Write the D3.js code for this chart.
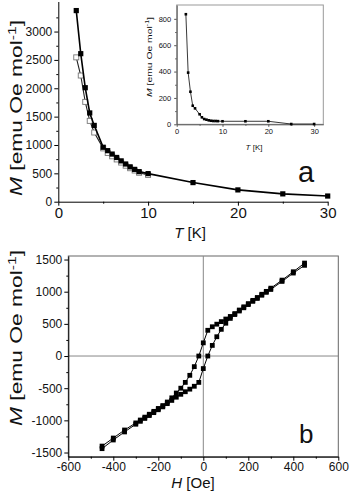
<!DOCTYPE html>
<meta charset="utf-8">
<style>
  body { margin: 0; background: #fff; }
  text { font-family: "Liberation Sans", Arial, sans-serif; fill: #111; }
</style>
<div id="chart"></div>
<script src="https://d3js.org/d3.v7.min.js"></script>
<script>

// ---- data: panel a (main), filled squares ----
const tempFilled = [2, 2.5, 3, 3.5, 4, 5, 5.5, 6, 6.5, 7, 7.5, 8, 8.5, 9, 10, 15, 20, 25, 30];
const magFilled  = [3370, 2610, 2010, 1565, 1345, 960, 900, 840, 780, 720, 665, 615, 570, 530, 495, 337, 208, 138, 100];
// open squares
const tempOpen = [2, 2.5, 3, 3.5, 4, 5, 5.5, 6, 6.5, 7, 7.5, 8, 8.5, 9, 10];
const magOpen  = [2545, 2225, 1760, 1425, 1220, 940, 860, 800, 745, 690, 635, 590, 550, 510, 470];

// inset
const tempInset = [2, 2.5, 3, 3.5, 4, 5, 5.5, 6, 6.5, 7, 7.5, 8, 8.5, 9, 10, 15, 20, 25, 30];
const magInset  = [835, 392, 247, 141, 121, 76, 53, 40, 35, 30, 27, 25, 25, 24, 23, 23, 23, 2, 2];

// panel b: hysteresis loop
const fieldH = [-450, -400, -350, -300, -280, -260, -240, -220, -200, -180, -160, -140, -120, -100, -80, -60, -40, -20,
                0, 20, 40, 60, 80, 100, 120, 140, 160, 180, 200, 220, 240, 260, 280, 300, 350, 400, 450];
const magDesc = [-1400, -1275, -1150, -1040, -995, -950, -905, -860, -815, -770, -715, -650, -575, -500, -410, -300, -165, 0,
                 205, 400, 455, 495, 535, 575, 615, 660, 715, 765, 815, 865, 910, 960, 1005, 1055, 1180, 1310, 1445];
const magAsc  = [-1440, -1305, -1180, -1060, -1015, -970, -925, -880, -835, -790, -740, -690, -640, -595, -555, -515, -470, -410,
                 -195, 0, 165, 300, 415, 510, 585, 645, 700, 750, 800, 850, 895, 945, 990, 1035, 1160, 1290, 1410];

// tick labels
const ticksA_x = [0, 10, 20, 30];
const ticksA_y = [0, 500, 1000, 1500, 2000, 2500, 3000];
const ticksI_x = [0, 10, 20, 30];
const ticksI_y = [0, 200, 400, 600, 800];
const ticksB_x = [-600, -400, -200, 0, 200, 400, 600];
const ticksB_y = [-1500, -1000, -500, 0, 500, 1000, 1500];

const plain = d => String(d);

let svg = d3.select("#chart").append("svg")
  .attr("width", 350).attr("height", 500);

function styleAxis(g, color) {
  g.select(".domain").attr("stroke", color || "#000").attr("stroke-width", 1);
  g.selectAll(".tick line").attr("stroke", color || "#000");
  g.selectAll(".tick text").attr("fill", "#111");
}

function yTitle(x, y, len, size, supSize) {
  let t = svg.append("text")
    .attr("transform", "translate(" + x + "," + y + ") rotate(-90)")
    .attr("text-anchor", "middle")
    .attr("font-size", size)
    .attr("textLength", len)
    .attr("lengthAdjust", "spacingAndGlyphs");
  t.append("tspan").attr("font-style", "italic").text("M");
  t.append("tspan").text(" [emu Oe mol");
  t.append("tspan").attr("font-size", supSize).attr("dy", -size * 0.38).text("-1");
  t.append("tspan").attr("dy", size * 0.38).text("]");
}

function xTitle(x, y, size, sym, unit) {
  let t = svg.append("text")
    .attr("x", x).attr("y", y)
    .attr("text-anchor", "middle")
    .attr("font-size", size);
  t.append("tspan").attr("font-style", "italic").text(sym);
  t.append("tspan").text(" [" + unit + "]");
}

// ================= panel a =================
let xa = d3.scaleLinear().domain([0, 30]).range([58.3, 327.7]);
let ya = d3.scaleLinear().domain([0, 3530]).range([201.7, 1.5]);

let ga = svg.append("g");
ga.append("g").attr("transform", "translate(0,201.7)")
  .call(d3.axisBottom(xa).tickValues([5, 15, 25]).tickSize(2).tickSizeOuter(0).tickFormat(""))
  .call(g => g.select(".domain").remove())
  .call(styleAxis);
ga.append("g").attr("transform", "translate(0,201.7)")
  .call(d3.axisBottom(xa).tickValues(ticksA_x).tickSize(4).tickPadding(2).tickSizeOuter(0).tickFormat(plain))
  .attr("font-size", 15).attr("font-family", null)
  .call(styleAxis);
ga.append("g").attr("transform", "translate(58.3,0)")
  .call(d3.axisLeft(ya).tickValues([250, 750, 1250, 1750, 2250, 2750, 3250]).tickSize(2).tickSizeOuter(0).tickFormat(""))
  .call(g => g.select(".domain").remove())
  .call(styleAxis);
ga.append("g").attr("transform", "translate(58.3,0)")
  .call(d3.axisLeft(ya).tickValues(ticksA_y).tickSize(4).tickPadding(2).tickSizeOuter(0).tickFormat(plain))
  .attr("font-size", 12).attr("font-family", null)
  .call(styleAxis);

let lineA = d3.line().x(d => xa(d[0])).y(d => ya(d[1]));
let openPts = tempOpen.map((t, i) => [t, magOpen[i]]);
let filledPts = tempFilled.map((t, i) => [t, magFilled[i]]);

ga.append("path").datum(openPts).attr("d", lineA)
  .attr("fill", "none").attr("stroke", "#222").attr("stroke-width", 1.1);
ga.selectAll(".open").data(openPts).enter().append("rect")
  .attr("class", "open")
  .attr("x", d => xa(d[0]) - 2.5).attr("y", d => ya(d[1]) - 2.5)
  .attr("width", 5).attr("height", 5)
  .attr("fill", "#fff").attr("stroke", "#777").attr("stroke-width", 0.9);

ga.append("path").datum(filledPts).attr("d", lineA)
  .attr("fill", "none").attr("stroke", "#000").attr("stroke-width", 1.6);
ga.selectAll(".filled").data(filledPts).enter().append("rect")
  .attr("class", "filled")
  .attr("x", d => xa(d[0]) - 2.6).attr("y", d => ya(d[1]) - 2.6)
  .attr("width", 5.2).attr("height", 5.2)
  .attr("fill", "#000");

yTitle(22, 108, 176, 16, 11);
xTitle(190, 238, 15, "T", "K");
svg.append("text").attr("x", 298).attr("y", 182).attr("font-size", 29).text("a");

// ================= inset =================
let xi = d3.scaleLinear().domain([0, 32]).range([176.7, 323.3]);
let yi = d3.scaleLinear().domain([0, 905]).range([124.3, 5]);

let gi = svg.append("g");
gi.append("rect").attr("x", 176.7).attr("y", 5).attr("width", 146.6).attr("height", 119.3)
  .attr("fill", "#fff").attr("stroke", "#999").attr("stroke-width", 1);
gi.append("g").attr("transform", "translate(0,124.3)")
  .call(d3.axisBottom(xi).tickValues([5, 15, 25]).tickSize(1.5).tickSizeOuter(0).tickFormat(""))
  .call(g => g.select(".domain").remove())
  .call(g => styleAxis(g, "#555"));
gi.append("g").attr("transform", "translate(0,124.3)")
  .call(d3.axisBottom(xi).tickValues(ticksI_x).tickSize(2.5).tickPadding(2).tickSizeOuter(0).tickFormat(plain))
  .attr("font-size", 7.5).attr("font-family", null)
  .call(g => styleAxis(g, "#555"));
gi.append("g").attr("transform", "translate(176.7,0)")
  .call(d3.axisLeft(yi).tickValues([100, 300, 500, 700]).tickSize(1.5).tickSizeOuter(0).tickFormat(""))
  .call(g => g.select(".domain").remove())
  .call(g => styleAxis(g, "#555"));
gi.append("g").attr("transform", "translate(176.7,0)")
  .call(d3.axisLeft(yi).tickValues(ticksI_y).tickSize(2.5).tickPadding(3).tickSizeOuter(0).tickFormat(plain))
  .attr("font-size", 7.5).attr("font-family", null)
  .call(g => styleAxis(g, "#555"));

let lineI = d3.line().x(d => xi(d[0])).y(d => yi(d[1]));
let insetPts = tempInset.map((t, i) => [t, magInset[i]]);
gi.append("path").datum(insetPts).attr("d", lineI)
  .attr("fill", "none").attr("stroke", "#222").attr("stroke-width", 0.9);
gi.selectAll(".ins").data(insetPts).enter().append("rect")
  .attr("class", "ins")
  .attr("x", d => xi(d[0]) - 1.3).attr("y", d => yi(d[1]) - 1.3)
  .attr("width", 2.6).attr("height", 2.6).attr("fill", "#000");

yTitle(152, 57, 80, 8, 5.5);
xTitle(254, 150, 8, "T", "K");

// ================= panel b =================
let xb = d3.scaleLinear().domain([-600, 600]).range([68.3, 338.3]);
let yb = d3.scaleLinear().domain([-1565, 1555]).range([456.7, 256]);

let gb = svg.append("g");
gb.append("rect").attr("x", 68.3).attr("y", 256).attr("width", 270).attr("height", 200.7)
  .attr("fill", "none").attr("stroke", "#666").attr("stroke-width", 1);
gb.append("line").attr("x1", xb(0)).attr("x2", xb(0)).attr("y1", 256).attr("y2", 456.7)
  .attr("stroke", "#888").attr("stroke-width", 1);
gb.append("line").attr("x1", 68.3).attr("x2", 338.3).attr("y1", yb(0)).attr("y2", yb(0))
  .attr("stroke", "#888").attr("stroke-width", 1);

gb.append("g").attr("transform", "translate(0,456.7)")
  .call(d3.axisBottom(xb).tickValues([-500, -300, -100, 100, 300, 500]).tickSize(2).tickSizeOuter(0).tickFormat(""))
  .call(g => g.select(".domain").remove())
  .call(styleAxis);
gb.append("g").attr("transform", "translate(0,456.7)")
  .call(d3.axisBottom(xb).tickValues(ticksB_x).tickSize(4).tickPadding(2).tickSizeOuter(0).tickFormat(plain))
  .attr("font-size", 12).attr("font-family", null)
  .call(styleAxis);
gb.append("g").attr("transform", "translate(68.3,0)")
  .call(d3.axisLeft(yb).tickValues([-1250, -750, -250, 250, 750, 1250]).tickSize(2).tickSizeOuter(0).tickFormat(""))
  .call(g => g.select(".domain").remove())
  .call(styleAxis);
gb.append("g").attr("transform", "translate(68.3,0)")
  .call(d3.axisLeft(yb).tickValues(ticksB_y).tickSize(4).tickPadding(2).tickSizeOuter(0).tickFormat(plain))
  .attr("font-size", 12).attr("font-family", null)
  .call(styleAxis);

let lineB = d3.line().x(d => xb(d[0])).y(d => yb(d[1]));
[magDesc, magAsc].forEach(series => {
  let pts = fieldH.map((h, i) => [h, series[i]]);
  gb.append("path").datum(pts).attr("d", lineB)
    .attr("fill", "none").attr("stroke", "#000").attr("stroke-width", 1);
  gb.selectAll(null).data(pts).enter().append("rect")
    .attr("x", d => xb(d[0]) - 2.4).attr("y", d => yb(d[1]) - 2.4)
    .attr("width", 4.8).attr("height", 4.8).attr("fill", "#000");
});

yTitle(22, 338, 176, 16, 11);
xTitle(193, 488, 15, "H", "Oe");
svg.append("text").attr("x", 299).attr("y", 443).attr("font-size", 26).text("b");

</script>
